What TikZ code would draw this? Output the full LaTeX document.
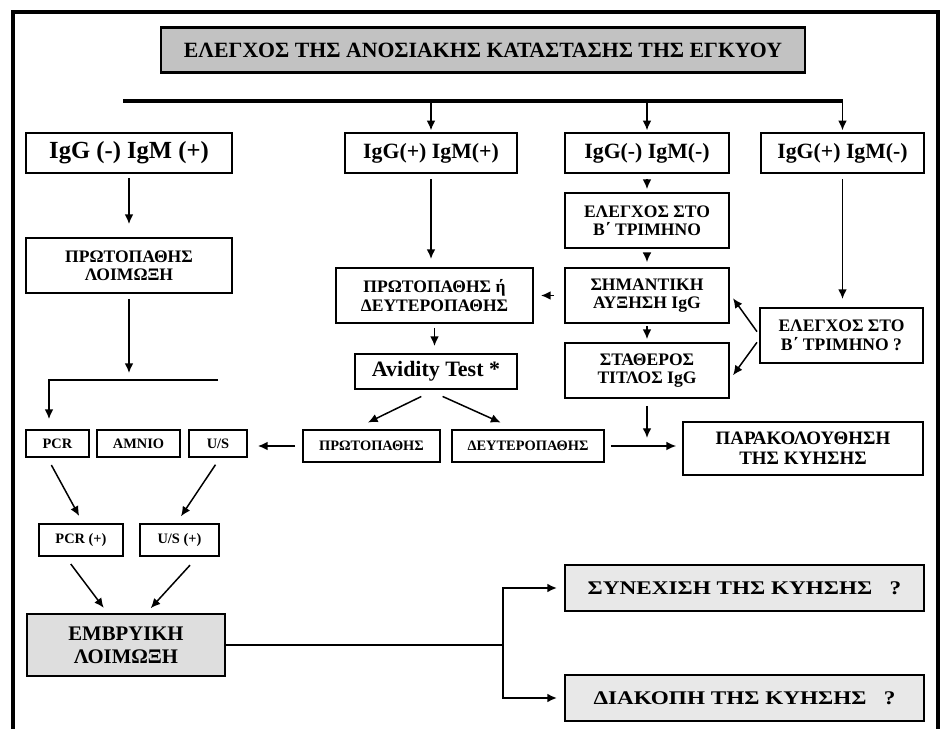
\documentclass[tikz,border=0pt]{standalone}
\usepackage{fontspec}
\setmainfont{Liberation Serif}
\newfontfamily\widefont[FakeStretch=1.2]{Liberation Serif}
\usetikzlibrary{calc,arrows.meta}
\tikzset{
	box/.style={draw, line width=1.1pt, fill=white, align=center, inner sep=0pt, font=\bfseries},
	toprow/.style={box, minimum height=0.8cm, font=\fontsize{12.4}{14}\selectfont\bfseries},
	midbox/.style={box, minimum height=1.1cm, font=\fontsize{10}{10.5}\selectfont\bfseries},
	smallbox/.style={box, font=\fontsize{8.2}{9}\selectfont\bfseries},
	endbox/.style={box, fill=black!9, minimum width=7.18cm, minimum height=0.92cm, font=\widefont\fontsize{11}{13}\selectfont\bfseries},
	arr/.style={-{Latex[length=5.5pt,width=5pt]}, line width=0.85pt},
}

\begin{document}
\begin{tikzpicture}[x=0.02cm, y=-0.02cm]
			%%%%% START %%%%%
			\useasboundingbox (0,0) rectangle (941,729);
			\draw[line width=2pt] (13,729) -- (13,12) -- (938,12) -- (938,729);
			
			\node[box, fill=black!24, line width=1.4pt, minimum width=12.88cm, minimum height=0.9cm, font=\fontsize{12.4}{14}\selectfont\bfseries] (title) at (483,50) {ΕΛΕΓΧΟΣ ΤΗΣ ΑΝΟΣΙΑΚΗΣ ΚΑΤΑΣΤΑΣΗΣ ΤΗΣ ΕΓΚΥΟΥ};
			
			\coordinate (barL) at (123,101);
			\coordinate (barR) at (843,101);
			\draw[line width=2pt] (barL) -- (barR);
			
			\node[toprow, minimum width=4.12cm, font=\fontsize{14}{16}\selectfont\bfseries] (a1) at (129,153) {IgG (-) IgM (+)};
			\node[toprow, minimum width=3.44cm] (b1) at (431,153) {IgG(+) IgM(+)};
			\node[toprow, minimum width=3.28cm] (c1) at (647,153) {IgG(-) IgM(-)};
			\node[toprow, minimum width=3.26cm] (d1) at (842.5,153) {IgG(+) IgM(-)};
			
			\draw[arr, shorten >=1pt] (b1.north |- barL) -- (b1.north);
			\draw[arr, shorten >=1pt] (c1.north |- barL) -- (c1.north);
			\draw[arr, shorten >=1pt] (d1.north |- barL) -- (d1.north);
			
			%%%%% LEFT %%%%%
			\node[midbox, minimum width=4.12cm] (a2) at (129,265.5) {ΠΡΩΤΟΠΑΘΗΣ\\ΛΟΙΜΩΞΗ};
			\draw[arr, shorten <=2.3pt, shorten >=7.4pt] (a1.south) -- (a2.north);
			
			\coordinate (splitR) at (218,380);
			\coordinate (splitL) at (49,380);
			\draw[arr, shorten <=2.8pt, shorten >=4pt] (a2.south) -- (a2.south |- splitR);
			
			\node[smallbox, minimum width=1.26cm, minimum height=0.54cm] (pcr) at (57.5,443.5) {PCR};
			\node[smallbox, minimum width=1.66cm, minimum height=0.54cm] (amnio) at (138.5,443.5) {ΑΜΝΙΟ};
			\node[smallbox, minimum width=1.16cm, minimum height=0.54cm] (us) at (218,443.5) {U/S};
			\draw[arr, shorten >=5.7pt] (splitR) -- (splitL) -- (splitL |- pcr.north);
			
			\node[smallbox, minimum width=1.68cm, minimum height=0.64cm] (pcrp) at (81,540) {PCR (+)};
			\node[smallbox, minimum width=1.58cm, minimum height=0.64cm] (usp) at (179.5,540) {U/S (+)};
			\draw[arr, shorten <=4.6pt, shorten >=4.6pt] ($(pcr.south)+(-10,0)$) -- ($(pcrp.north)+(2,0)$);
			\draw[arr, shorten <=4.6pt, shorten >=4.6pt] ($(us.south)+(2,0)$) -- ($(usp.north)+(-3,0)$);
			
			\node[box, fill=black!13, line width=1.6pt, minimum width=3.96cm, minimum height=1.24cm, font=\fontsize{11.8}{13.3}\selectfont\bfseries] (embryo) at (126,645) {ΕΜΒΡΥΙΚΗ\\ΛΟΙΜΩΞΗ};
			\draw[arr, shorten <=5pt, shorten >=3.4pt] ($(pcrp.south)+(-15.5,0)$) -- ($(embryo.north)+(-18.7,0)$);
			\draw[arr, shorten <=6.3pt, shorten >=3.4pt] ($(usp.south)+(18,0)$) -- ($(embryo.north)+(20.7,0)$);
			
			%%%%% MIDDLE %%%%%
			\node[midbox, minimum width=3.94cm] (b2) at (434.5,295.5) {ΠΡΩΤΟΠΑΘΗΣ ή\\ΔΕΥΤΕΡΟΠΑΘΗΣ};
			\draw[arr, shorten <=2.8pt, shorten >=4.6pt] (b1.south) -- (b1.south |- b2.north);
			
			\node[box, minimum width=3.24cm, minimum height=0.7cm, font=\fontsize{12.5}{14}\selectfont\bfseries] (avid) at (436,371.5) {Avidity Test *};
			\draw[arr, shorten <=2.3pt, shorten >=4pt] (b2.south) -- (b2.south |- avid.north);
			
			\node[smallbox, minimum width=2.74cm, minimum height=0.64cm] (prim) at (371.5,446) {ΠΡΩΤΟΠΑΘΗΣ};
			\node[smallbox, minimum width=3.04cm, minimum height=0.64cm] (sec) at (528,446) {ΔΕΥΤΕΡΟΠΑΘΗΣ};
			\draw[arr, shorten <=8.5pt, shorten >=8.5pt] ($(avid.south)+(-1.3,0)$) -- ($(prim.north)+(-17,0)$);
			\draw[arr, shorten <=9pt, shorten >=9pt] ($(avid.south)+(-7.8,0)$) -- ($(sec.north)+(-13,0)$);
			\draw[arr, shorten <=4pt, shorten >=5.7pt] (prim.west) -- (prim.west -| us.east);
			
			%%%%% RIGHT %%%%%
			\node[midbox, minimum width=3.28cm] (c2) at (647,220.5) {ΕΛΕΓΧΟΣ ΣΤΟ\\Β΄ ΤΡΙΜΗΝΟ};
			\node[midbox, minimum width=3.28cm] (c3) at (647,295.5) {ΣΗΜΑΝΤΙΚΗ\\ΑΥΞΗΣΗ IgG};
			\node[midbox, minimum width=3.28cm] (c4) at (647,370.5) {ΣΤΑΘΕΡΟΣ\\ΤΙΤΛΟΣ IgG};
			\draw[arr, shorten <=2.8pt, shorten >=1.7pt] (c1.south) -- (c2.north);
			\draw[arr, shorten <=2.3pt, shorten >=2.8pt] (c2.south) -- (c3.north);
			\draw[arr, shorten <=1.1pt, shorten >=1.7pt] (c3.south) -- (c4.north);
			\draw[arr, shorten <=5.7pt, shorten >=4pt] (c3.west) -- (b2.east);
			
			\node[midbox, minimum width=4.8cm, minimum height=1.06cm, font=\fontsize{10.8}{11.5}\selectfont\bfseries] (follow) at (803,448.5) {ΠΑΡΑΚΟΛΟΥΘΗΣΗ\\ΤΗΣ ΚΥΗΣΗΣ};
			\draw[arr, shorten <=3.4pt, shorten >=3.4pt] (sec.east) -- (sec.east -| follow.west);
			\coordinate (join) at (c4.south |- sec.east);
			\draw[arr, shorten <=4pt, shorten >=4.6pt] (c4.south) -- (join);
			
			\node[midbox, minimum width=3.26cm] (d2) at (841.5,335.5) {ΕΛΕΓΧΟΣ ΣΤΟ\\Β΄ ΤΡΙΜΗΝΟ ?};
			\draw[arr, shorten <=2.8pt, shorten >=4.6pt] (d1.south) -- (d1.south |- d2.north);
			\draw[arr, shorten <=2pt, shorten >=3pt] ($(d2.west)+(0,-1)$) -- ($(c3.east)+(0,-1.5)$);
			\draw[arr, shorten <=2pt, shorten >=3pt] ($(d2.west)+(0,4)$) -- ($(c4.east)+(0,9)$);
			
			%%%%% BOTTOM %%%%%
			\node[endbox] (cont) at (744.5,588) {ΣΥΝΕΧΙΣΗ ΤΗΣ ΚΥΗΣΗΣ \ \ ?};
			\node[endbox] (stop) at (744.5,698) {ΔΙΑΚΟΠΗ ΤΗΣ ΚΥΗΣΗΣ \ \ ?};
			\coordinate (fork) at (503,645);
			\draw[line width=1.2pt] (embryo.east) -- (fork);
			\draw[arr, line width=1.1pt, shorten >=4pt] (fork) |- (cont.west);
			\draw[arr, line width=1.1pt, shorten >=4pt] (fork) |- (stop.west);
			
			%%%%% END %%%%%
\end{tikzpicture}
\end{document}
